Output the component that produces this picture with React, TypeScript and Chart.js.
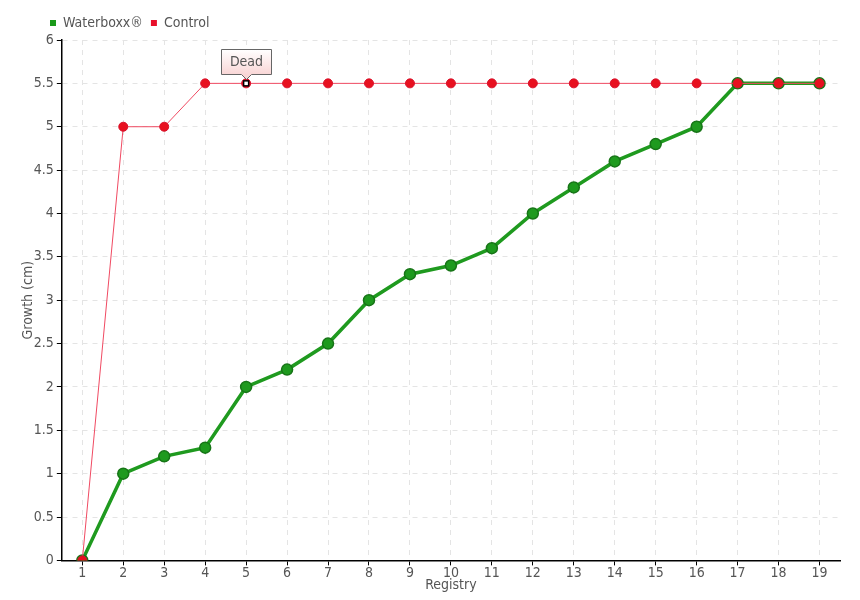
import React, { useEffect, useRef } from "react";
import { Chart, registerables } from "chart.js";

Chart.register(...registerables);

const registry = ["1","2","3","4","5","6","7","8","9","10","11","12","13","14","15","16","17","18","19"];
const waterboxx = [0, 1, 1.2, 1.3, 2, 2.2, 2.5, 3, 3.3, 3.4, 3.6, 4, 4.3, 4.6, 4.8, 5, 5.5, 5.5, 5.5];
const control = [0, 5, 5, 5.5, 5.5, 5.5, 5.5, 5.5, 5.5, 5.5, 5.5, 5.5, 5.5, 5.5, 5.5, 5.5, 5.5, 5.5, 5.5];
const deadIndex = 4;
const deadText = "Dead";

const FONT = "'Liberation Sans Narrow', 'DejaVu Sans Condensed', 'Roboto', sans-serif";
const TXT = "#555";

const legendShift = {
  id: "legendShift",
  afterLayout(chart: any) {
    if (chart.legend) {
      chart.legend.left = 42;
    }
  },
};

const deadMarker = {
  id: "deadMarker",
  afterDatasetsDraw(chart: any) {
    const meta = chart.getDatasetMeta(1);
    const el = meta.data[deadIndex];
    if (!el) return;
    const ctx = chart.ctx;
    const x = el.x, y = el.y;
    ctx.save();
    ctx.fillStyle = "#fff";
    ctx.strokeStyle = "#000";
    ctx.lineWidth = 1.5;
    ctx.fillRect(x - 2.5, y - 2.5, 5, 5);
    ctx.strokeRect(x - 2.5, y - 2.5, 5, 5);
    ctx.font = "14px " + FONT;
    const w = 50, h = 25;
    const bx = Math.round(x - w / 2) + 0.5, by = Math.round(y - 34) + 0.5;
    const grad = ctx.createLinearGradient(0, by, 0, by + h);
    grad.addColorStop(0, "#ffffff");
    grad.addColorStop(1, "#f9d6d6");
    ctx.beginPath();
    ctx.moveTo(bx, by);
    ctx.lineTo(bx + w, by);
    ctx.lineTo(bx + w, by + h);
    ctx.lineTo(bx + w / 2 + 5, by + h);
    ctx.lineTo(bx + w / 2, by + h + 5);
    ctx.lineTo(bx + w / 2 - 5, by + h);
    ctx.lineTo(bx, by + h);
    ctx.closePath();
    ctx.fillStyle = grad;
    ctx.fill();
    ctx.strokeStyle = "#666";
    ctx.lineWidth = 1;
    ctx.stroke();
    ctx.fillStyle = TXT;
    ctx.textAlign = "center";
    ctx.textBaseline = "middle";
    ctx.fillText(deadText, bx + w / 2, by + h / 2);
    ctx.restore();
  },
};

export default function App() {
  const ref = useRef<HTMLCanvasElement>(null);
  useEffect(() => {
    document.body.style.margin = "0";
    const chart = new Chart(ref.current!, {
      type: "line",
      data: {
        labels: registry,
        datasets: [
          {
            label: "Waterboxx®",
            data: waterboxx,
            order: 1,
            borderColor: "#1f9a1f",
            backgroundColor: "#1a9a1a",
            borderWidth: 3.5,
            pointRadius: 5.5,
            pointBackgroundColor: "#1e9a1e",
            pointBorderColor: "#177517",
            pointBorderWidth: 1.5,
            tension: 0,
          },
          {
            label: "Control",
            data: control,
            order: 0,
            borderColor: "#f04a62",
            backgroundColor: "#e8102a",
            borderWidth: 1,
            pointRadius: 4.5,
            pointBackgroundColor: "#e8101f",
            pointBorderColor: "#d8102a",
            pointBorderWidth: 1,
            tension: 0,
          },
        ],
      },
      options: {
        animation: false,
        responsive: false,
        maintainAspectRatio: false,
        layout: { padding: { top: 8, right: 20, bottom: 6, left: 20 } },
        plugins: {
          tooltip: { enabled: false },
          legend: {
            position: "top",
            align: "start",
            labels: {
              boxWidth: 6,
              boxHeight: 6,
              padding: 8,
              color: TXT,
              font: { family: FONT, size: 14 },
              sort: (a: any, b: any) => a.datasetIndex - b.datasetIndex,
              generateLabels: (chart: any) =>
                chart.data.datasets.map((ds: any, i: number) => ({
                  text: ds.label,
                  fillStyle: ds.backgroundColor,
                  strokeStyle: ds.backgroundColor,
                  lineWidth: 0,
                  fontColor: TXT,
                  hidden: !chart.isDatasetVisible(i),
                  datasetIndex: i,
                })),
            },
          },
        },
        scales: {
          x: {
            offset: true,
            grid: {
              offset: false,
              color: "#e4e4e4",
              tickColor: "#000",
              tickLength: 5,
            },
            border: { color: "#000", width: 1.5, dash: [5, 5] },
            ticks: { color: TXT, font: { family: FONT, size: 14 }, padding: 0 },
            title: {
              display: true,
              text: "Registry",
              color: TXT,
              font: { family: FONT, size: 14 },
              padding: { top: -5, bottom: 0 },
            },
          },
          y: {
            min: 0,
            max: 6,
            ticks: {
              stepSize: 0.5,
              color: TXT,
              font: { family: FONT, size: 14 },
              padding: 3,
              callback: (v: any) => String(v),
            },
            grid: { color: "#e4e4e4", tickColor: "#000", tickLength: 5 },
            border: { color: "#000", width: 1.5, dash: [5, 5] },
            title: {
              display: true,
              text: "Growth (cm)",
              color: TXT,
              font: { family: FONT, size: 14 },
              padding: { top: 0, bottom: -6 },
            },
          },
        },
      },
      plugins: [legendShift, deadMarker],
    });
    return () => chart.destroy();
  }, []);
  return (
    <div style={{ width: 860, height: 600 }}>
      <canvas ref={ref} width={860} height={600} />
    </div>
  );
}
